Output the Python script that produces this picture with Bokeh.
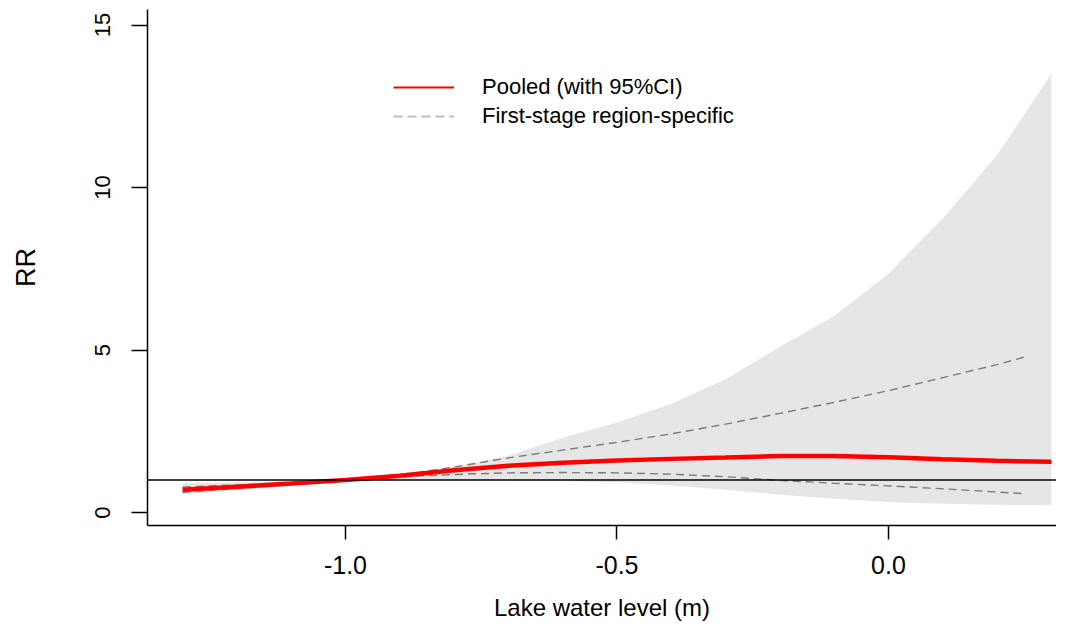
from bokeh.plotting import figure
from bokeh.models import Range1d, FixedTicker, Span, Legend, LegendItem, NumeralTickFormatter
from bokeh.embed import file_html
from bokeh.resources import INLINE

# Lake water level (m) grid for the pooled curve
level = [-1.3, -1.2, -1.1, -1.0, -0.9, -0.8, -0.7, -0.6, -0.5, -0.4, -0.3, -0.2, -0.1, 0.0, 0.1, 0.2, 0.3]
pooled_rr = [0.70, 0.79, 0.89, 1.00, 1.13, 1.30, 1.44, 1.53, 1.60, 1.65, 1.69, 1.74, 1.74, 1.70, 1.64, 1.59, 1.56]
ci_low = [0.56, 0.68, 0.84, 1.00, 1.02, 1.00, 0.99, 0.97, 0.93, 0.83, 0.70, 0.55, 0.42, 0.32, 0.27, 0.24, 0.22]
ci_high = [0.90, 0.93, 0.96, 1.00, 1.20, 1.40, 1.75, 2.30, 2.77, 3.35, 4.10, 5.10, 6.05, 7.35, 9.05, 11.00, 13.50]

# First-stage region-specific curves
region_level = [-1.3, -1.2, -1.1, -1.0, -0.9, -0.8, -0.7, -0.6, -0.5, -0.4, -0.3, -0.2, -0.1, 0.0, 0.1, 0.2, 0.25]
region_a_rr = [0.78, 0.85, 0.92, 1.00, 1.15, 1.40, 1.68, 1.92, 2.16, 2.42, 2.72, 3.05, 3.39, 3.75, 4.15, 4.55, 4.78]
region_b_rr = [0.62, 0.74, 0.87, 1.00, 1.10, 1.17, 1.22, 1.23, 1.22, 1.18, 1.10, 0.99, 0.90, 0.82, 0.73, 0.63, 0.58]

x_ticks = [-1.0, -0.5, 0.0]
y_ticks = [0, 5, 10, 15]
reference_rr = 1.0

FONT = "Liberation Sans"

p = figure(width=1056, height=626, output_backend="svg", toolbar_location=None,
           x_range=Range1d(-1.3646, 0.3094), y_range=Range1d(-0.4, 15.477),
           min_border_left=147, min_border_right=0, min_border_top=9, min_border_bottom=101)

p.outline_line_color = None
p.xgrid.visible = False
p.ygrid.visible = False
p.background_fill_color = "white"
p.border_fill_color = "white"

# CI band
p.varea(x=level, y1=ci_low, y2=ci_high, fill_color="#e6e6e6")

# region-specific dashed curves
p.line(region_level, region_a_rr, line_color="#7a7a7a", line_width=1.4, line_dash="8 5")
p.line(region_level, region_b_rr, line_color="#7a7a7a", line_width=1.4, line_dash="8 5")

# pooled curve
p.line(level, pooled_rr, line_color="#ff0000", line_width=4.5)

# reference line
p.add_layout(Span(location=reference_rr, dimension="width", line_color="black", line_width=1.3))

# legend-only renderers (a single point draws no line, only the legend key)
leg_pooled = p.line(x=level[:1], y=pooled_rr[:1], line_color="#ff0000", line_width=2)
leg_region = p.line(x=region_level[:1], y=region_a_rr[:1], line_color="#bdbdbd", line_width=2, line_dash="9 5")
legend = Legend(items=[LegendItem(label="Pooled (with 95%CI)", renderers=[leg_pooled]),
                       LegendItem(label="First-stage region-specific", renderers=[leg_region])],
                location=(246, 396), border_line_color=None, background_fill_alpha=0,
                padding=0, margin=0, glyph_width=61, glyph_height=20, label_standoff=28,
                spacing=3, label_text_font=FONT, label_text_font_size="22px",
                label_text_color="black")
p.add_layout(legend)

# axes
for ax in (p.xaxis[0], p.yaxis[0]):
    ax.axis_line_color = "black"
    ax.axis_line_width = 1.5
    ax.major_tick_line_color = "black"
    ax.major_tick_line_width = 1.5
    ax.major_tick_in = 0
    ax.minor_tick_line_color = None
    ax.major_label_text_font = FONT
    ax.major_label_text_color = "black"
    ax.axis_label_text_font = FONT
    ax.axis_label_text_font_style = "normal"
    ax.axis_label_text_color = "black"

p.xaxis.ticker = FixedTicker(ticks=x_ticks)
p.xaxis.formatter = NumeralTickFormatter(format="0.0")
p.xaxis.major_tick_out = 14
p.xaxis.major_label_standoff = 16
p.xaxis.major_label_text_font_size = "25px"
p.xaxis.axis_label = "Lake water level (m)"
p.xaxis.axis_label_text_font_size = "24px"
p.xaxis.axis_label_standoff = 17

p.yaxis.ticker = FixedTicker(ticks=y_ticks)
p.yaxis.major_tick_out = 16
p.yaxis.major_label_standoff = 21
p.yaxis.major_label_orientation = "vertical"
p.yaxis.major_label_text_font_size = "22px"
p.yaxis.axis_label = "RR"
p.yaxis.axis_label_text_font_size = "27px"
p.yaxis.axis_label_standoff = 52

open("out.html", "w").write(file_html(p, INLINE))
